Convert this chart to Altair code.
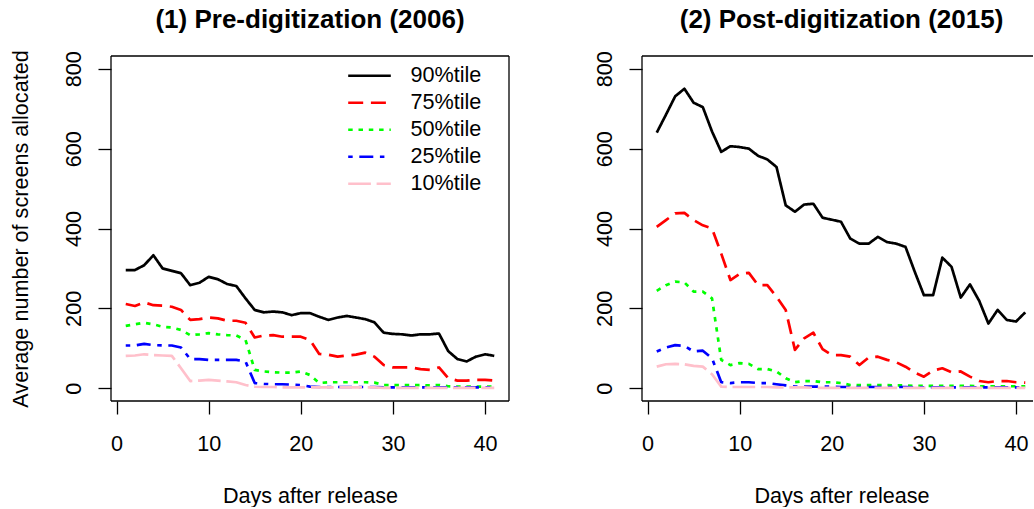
import altair as alt
import pandas as pd

# ---- data -------------------------------------------------------------
days = list(range(1, 42))
series = ["90%tile", "75%tile", "50%tile", "25%tile", "10%tile"]

pre_p90 = [296, 296, 308, 333, 300, 294, 288, 258, 264, 279, 273, 261, 256, 225, 196,
           190, 192, 190, 183, 188, 188, 179, 171, 177, 181, 177, 173, 165, 139, 136,
           135, 132, 135, 135, 137, 93, 73, 67, 79, 85, 81]
pre_p75 = [211, 206, 215, 208, 207, 204, 196, 171, 173, 177, 175, 169, 169, 164, 127,
           132, 133, 129, 129, 129, 121, 86, 84, 79, 82, 84, 89, 79, 58, 52,
           52, 52, 48, 46, 52, 25, 19, 19, 21, 21, 19]
pre_p50 = [156, 160, 164, 160, 154, 152, 146, 133, 135, 138, 135, 133, 132, 121, 46,
           42, 40, 39, 39, 42, 33, 13, 15, 15, 15, 15, 15, 14, 8, 8,
           8, 8, 8, 7, 8, 5, 4, 4, 4, 4, 4]
pre_p25 = [107, 107, 111, 108, 107, 107, 102, 73, 73, 71, 71, 71, 71, 67, 13,
           11, 10, 10, 9, 8, 4, 3, 3, 3, 3, 3, 3, 3, 2, 2,
           2, 2, 2, 2, 2, 2, 2, 2, 2, 2, 2]
pre_p10 = [81, 82, 85, 83, 82, 81, 50, 18, 19, 21, 19, 17, 15, 8, 4,
           3, 3, 2, 2, 2, 2, 2, 2, 2, 2, 2, 2, 2, 1, 1,
           1, 1, 1, 1, 1, 1, 1, 1, 1, 1, 1]

post_p90 = [640, 685, 731, 750, 715, 704, 643, 592, 606, 604, 600, 582, 573, 554, 458,
            442, 460, 462, 427, 422, 417, 375, 362, 362, 379, 366, 362, 354, 292, 233,
            233, 327, 304, 227, 260, 219, 162, 196, 171, 167, 190]
post_p75 = [404, 421, 438, 439, 421, 408, 400, 337, 271, 286, 289, 258, 258, 229, 196,
            96, 125, 139, 98, 83, 83, 79, 58, 77, 79, 71, 65, 54, 39, 29,
            44, 50, 40, 42, 29, 18, 15, 18, 18, 15, 14]
post_p50 = [244, 258, 267, 265, 242, 242, 225, 71, 58, 63, 61, 48, 48, 42, 25,
            15, 18, 18, 15, 15, 13, 8, 8, 8, 8, 8, 7, 7, 6, 6,
            6, 6, 6, 6, 6, 5, 5, 5, 5, 5, 5]
post_p25 = [92, 102, 108, 106, 92, 94, 75, 15, 13, 15, 15, 13, 13, 10, 7,
            4, 4, 4, 4, 4, 3, 3, 3, 3, 3, 3, 3, 3, 2, 2,
            2, 2, 2, 2, 2, 2, 2, 2, 2, 2, 2]
post_p10 = [54, 60, 61, 60, 56, 54, 35, 4, 3, 3, 3, 3, 3, 2, 2,
            2, 2, 1, 1, 1, 1, 1, 1, 1, 1, 1, 1, 1, 1, 1,
            1, 1, 1, 1, 1, 1, 1, 1, 1, 1, 1]

x_ticks = [0, 10, 20, 30, 40]
y_ticks = [0, 200, 400, 600, 800]

line_colors = ["black", "#FF0000", "#00FF00", "#0000FF", "#FFC0CB"]
line_dashes = [[1, 0], [15, 7.7], [4.5, 5.8], [4.5, 6.6, 14, 6.6], [22.7, 5.7]]


def long_frame(cols):
    rows = []
    for name, vals in zip(series, cols):
        for d, v in zip(days, vals):
            rows.append({"day": d, "screens": v, "pct": name})
    return pd.DataFrame(rows)


pre_df = long_frame([pre_p90, pre_p75, pre_p50, pre_p25, pre_p10])
post_df = long_frame([post_p90, post_p75, post_p50, post_p25, post_p10])

# ---- styling ----------------------------------------------------------
FONT = "Liberation Sans"
FS = 21.6
H = 345
LW = 2.7
one = pd.DataFrame({"k": [0]})


def panel(df, title, width, xmax, box_center, legend, y_title, left_ext, bottom_ext, right_side):
    x_axis = alt.Axis(
        values=x_ticks, format="d", domain=False, grid=False,
        tickSize=13, tickWidth=1.3, tickColor="black",
        labelFont=FONT, labelFontSize=FS, labelColor="black", labelPadding=36.3,
        labelBaseline="alphabetic", labelAlign="center", labelFlush=False,
        labelOverlap=False, labelBound=False,
        title="Days after release", titleFont=FONT, titleFontSize=FS,
        titleFontWeight="normal", titleColor="black", titleX=box_center, titleY=101,
        titleBaseline="alphabetic", titleAlign="center", titleAngle=0,
    )
    y_kw = dict(
        values=y_ticks, format="d", domain=False, grid=False,
        tickSize=13, tickWidth=1.3, tickColor="black",
        labelFont=FONT, labelFontSize=FS, labelColor="black", labelPadding=17.5,
        labelAngle=270, labelBaseline="alphabetic", labelAlign="center",
        labelFlush=False, labelOverlap=False, labelBound=False,
    )
    if y_title:
        y_axis = alt.Axis(
            title=y_title, titleFont=FONT, titleFontSize=FS, titleFontWeight="normal",
            titleColor="black", titleAngle=270, titleX=-83.5, titleY=H / 2,
            titleBaseline="alphabetic", titleAlign="center", **y_kw)
    else:
        y_axis = alt.Axis(title=None, **y_kw)

    color = alt.Color("pct:N", scale=alt.Scale(domain=series, range=line_colors),
                      legend=legend)
    dash = alt.StrokeDash("pct:N", scale=alt.Scale(domain=series, range=line_dashes),
                          legend=legend)

    lines = alt.Chart(df).mark_line(
        strokeWidth=LW, strokeJoin="round", strokeCap="butt"
    ).encode(
        x=alt.X("day:Q", scale=alt.Scale(domain=[-0.6, xmax], nice=False, zero=False),
                axis=x_axis),
        y=alt.Y("screens:Q", scale=alt.Scale(domain=[-32, 832], nice=False, zero=False),
                axis=y_axis),
        color=color,
        strokeDash=dash,
    )

    rule = dict(color="black", strokeWidth=1.3)
    frame = [
        alt.Chart(one).mark_rule(**rule).encode(x=alt.value(0), x2=alt.value(right_side), y=alt.value(0)),
        alt.Chart(one).mark_rule(**rule).encode(x=alt.value(0), x2=alt.value(right_side), y=alt.value(H)),
        alt.Chart(one).mark_rule(**rule).encode(x=alt.value(0), y=alt.value(0), y2=alt.value(H)),
    ]
    if right_side == width:
        frame.append(alt.Chart(one).mark_rule(**rule).encode(
            x=alt.value(width), y=alt.value(0), y2=alt.value(H)))

    head = alt.Chart(one).mark_text(
        text=title, font=FONT, fontSize=26, fontWeight="bold", color="black",
        align="center", baseline="alphabetic",
    ).encode(x=alt.value(box_center), y=alt.value(-28.2))

    # transparent page extent so the canvas keeps its margins
    extent = alt.Chart(one).mark_rect(opacity=0).encode(
        x=alt.value(left_ext), x2=alt.value(width), y=alt.value(-56), y2=alt.value(bottom_ext))

    return alt.layer(extent, *frame, lines, head).properties(width=width, height=H)


legend = alt.Legend(
    title=None, orient="none", legendX=235.5, legendY=6.5,
    symbolType="stroke", symbolSize=1815, symbolStrokeWidth=LW,
    labelFont=FONT, labelFontSize=FS, labelColor="black", labelOffset=18,
    clipHeight=26.5, rowPadding=0, padding=0,
)

left = panel(pre_df, "(1) Pre-digitization (2006)", 398, 42.6, 199, legend,
             "Average number of screens allocated", -111, 448, 398)
right = panel(post_df, "(2) Post-digitization (2015)", 392, 41.95, 199.5, None,
              None, 0, 448, 391)

chart = alt.hconcat(left, right, spacing=133, bounds="flush").resolve_scale(
    x="independent", y="independent", color="independent", strokeDash="independent"
).properties(padding=0, background="white").configure_view(stroke=None)

chart.save("out.html", embed_options={"renderer": "svg", "actions": False})
